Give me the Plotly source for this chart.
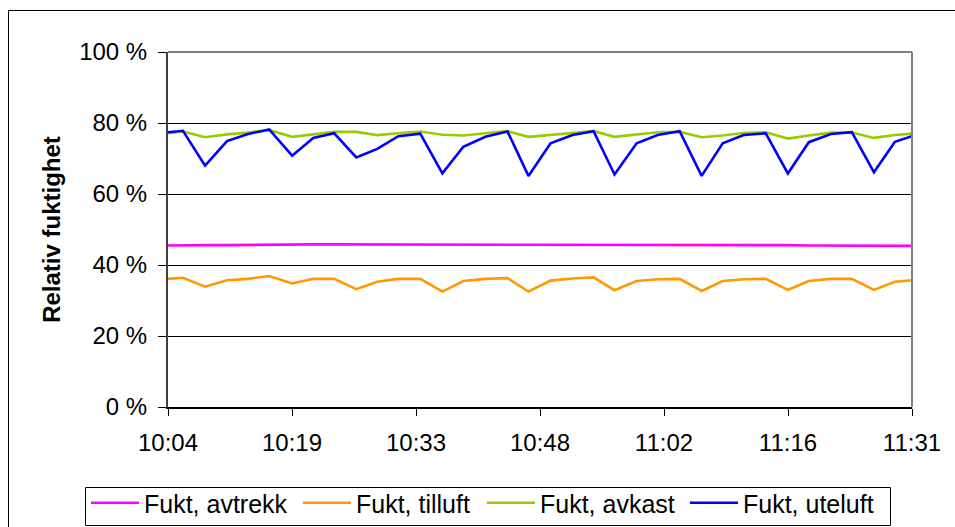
import pandas as pd
import plotly.graph_objects as go

# Sample times (hh:mm:ss)
times = [
    "10:04:00", "10:05:45", "10:08:20", "10:10:54", "10:13:22", "10:15:50",
    "10:18:31", "10:20:59", "10:23:26", "10:26:01", "10:28:28", "10:30:56",
    "10:33:30", "10:36:05", "10:38:32", "10:41:07", "10:43:42", "10:46:09",
    "10:48:44", "10:51:18", "10:53:46", "10:56:13", "10:58:48", "11:01:15",
    "11:03:50", "11:06:24", "11:08:52", "11:11:19", "11:13:54", "11:16:29",
    "11:18:56", "11:21:31", "11:23:58", "11:26:33", "11:29:00", "11:31:00",
]

# Relative humidity, percent
fukt_avtrekk = [
    45.5, 45.6, 45.6, 45.6, 45.7, 45.7, 45.7, 45.8, 45.8, 45.8, 45.8, 45.8,
    45.8, 45.8, 45.8, 45.7, 45.8, 45.7, 45.7, 45.7, 45.7, 45.7, 45.7, 45.6,
    45.6, 45.6, 45.6, 45.6, 45.6, 45.6, 45.5, 45.5, 45.5, 45.5, 45.4, 45.4,
]
fukt_tilluft = [
    36.1, 36.4, 33.9, 35.7, 36.1, 36.9, 34.8, 36.1, 36.1, 33.2, 35.3, 36.1,
    36.1, 32.5, 35.5, 36.1, 36.3, 32.5, 35.6, 36.2, 36.5, 32.9, 35.5, 36.0,
    36.1, 32.7, 35.5, 36.0, 36.1, 33.0, 35.5, 36.1, 36.1, 33.0, 35.3, 35.7,
]
fukt_avkast = [
    77.1, 77.6, 76.0, 76.8, 77.3, 78.0, 76.1, 76.9, 77.5, 77.5, 76.6, 77.1,
    77.6, 76.7, 76.5, 77.1, 77.7, 76.1, 76.7, 77.3, 77.7, 76.1, 76.7, 77.4,
    77.5, 76.0, 76.5, 77.2, 77.4, 75.6, 76.5, 77.3, 77.3, 75.8, 76.6, 77.0,
]
fukt_uteluft = [
    77.4, 77.8, 68.0, 74.9, 76.9, 78.2, 70.8, 75.8, 77.1, 70.3, 72.7, 76.3,
    77.0, 65.8, 73.3, 76.1, 77.6, 65.1, 74.3, 76.6, 77.7, 65.5, 74.3, 76.6,
    77.7, 65.1, 74.3, 76.6, 77.1, 65.8, 74.6, 76.9, 77.4, 66.1, 74.7, 76.3,
]

tick_times = ["10:04:00", "10:18:30", "10:33:00", "10:47:30", "11:02:00", "11:16:30", "11:31:00"]
tick_labels = ["10:04", "10:19", "10:33", "10:48", "11:02", "11:16", "11:31"]
y_ticks = [0, 20, 40, 60, 80, 100]
y_labels = ["0 %", "20 %", "40 %", "60 %", "80 %", "100 %"]

day = "2000-01-01 "
x = pd.to_datetime([day + t for t in times])
xt = pd.to_datetime([day + t for t in tick_times])

series = [
    # name, values, colour, legend entry width
    ("Fukt, avtrekk", fukt_avtrekk, "#FF00FF", 149),
    ("Fukt, tilluft", fukt_tilluft, "#FF9900", 121),
    ("Fukt, avkast", fukt_avkast, "#99CC00", 140),
    ("Fukt, uteluft", fukt_uteluft, "#0000FF", 140),
]

FONT = "Liberation Sans, Arial, sans-serif"

fig = go.Figure()
for name, vals, color, lw in series:
    fig.add_trace(go.Scatter(
        x=x, y=vals, name=name, mode="lines",
        line=dict(color=color, width=2.6),
        legendwidth=lw,
    ))

W, H = 955, 527
L, R, T, B = 168, 43, 52, 120
pw, ph = W - L - R, H - T - B


def px_x(p):
    return (p - L) / pw


def px_y(p):
    return (H - B - p) / ph


fig.update_layout(
    width=W, height=H,
    margin=dict(l=L, r=R, t=T, b=B, autoexpand=False),
    paper_bgcolor="white", plot_bgcolor="white",
    font=dict(family=FONT, size=24, color="black"),
    showlegend=True,
    legend=dict(
        orientation="h",
        x=px_x(86), xanchor="left",
        y=px_y(480), yanchor="top",
        borderwidth=0,
        bgcolor="rgba(0,0,0,0)",
        font=dict(family=FONT, size=25, color="black"),
        itemwidth=48,
        tracegroupgap=0,
    ),
    xaxis=dict(
        type="date",
        range=[xt[0], xt[-1]],
        tickvals=xt, ticktext=tick_labels,
        ticks="outside", ticklen=7, tickwidth=1, tickcolor="black",
        ticklabelstandoff=6,
        showgrid=False, zeroline=False,
        showline=True, linecolor="black", linewidth=1.5,
        tickfont=dict(family=FONT, size=24, color="black"),
    ),
    yaxis=dict(
        range=[0, 100],
        tickvals=y_ticks, ticktext=y_labels,
        ticks="outside", ticklen=8, tickwidth=1, tickcolor="black",
        ticklabelstandoff=6,
        showgrid=True, gridcolor="black", gridwidth=1,
        zeroline=False,
        showline=True, linecolor="#404040", linewidth=2,
        tickfont=dict(family=FONT, size=24, color="black"),
        title=dict(text="<b>Relativ fuktighet</b>", standoff=12,
                   font=dict(family=FONT, size=24, color="black")),
    ),
)

# Plot-area frame on the top and right sides
fig.add_shape(type="line", xref="paper", yref="paper", x0=0, x1=1, y0=1, y1=1,
              line=dict(color="#808080", width=2))
fig.add_shape(type="line", xref="paper", yref="paper", x0=1, x1=1, y0=0, y1=1,
              line=dict(color="#808080", width=2))

# Outer chart border
fig.add_shape(type="rect", xref="paper", yref="paper",
              x0=px_x(8.5), x1=px_x(W + 20), y0=px_y(H + 20), y1=px_y(10.5),
              line=dict(color="black", width=1), layer="below")

# Legend frame
fig.add_shape(type="rect", xref="paper", yref="paper",
              x0=px_x(85.5), x1=px_x(890.5), y0=px_y(525.5), y1=px_y(487.5),
              line=dict(color="black", width=1), layer="below")

fig.write_html("out.html")
